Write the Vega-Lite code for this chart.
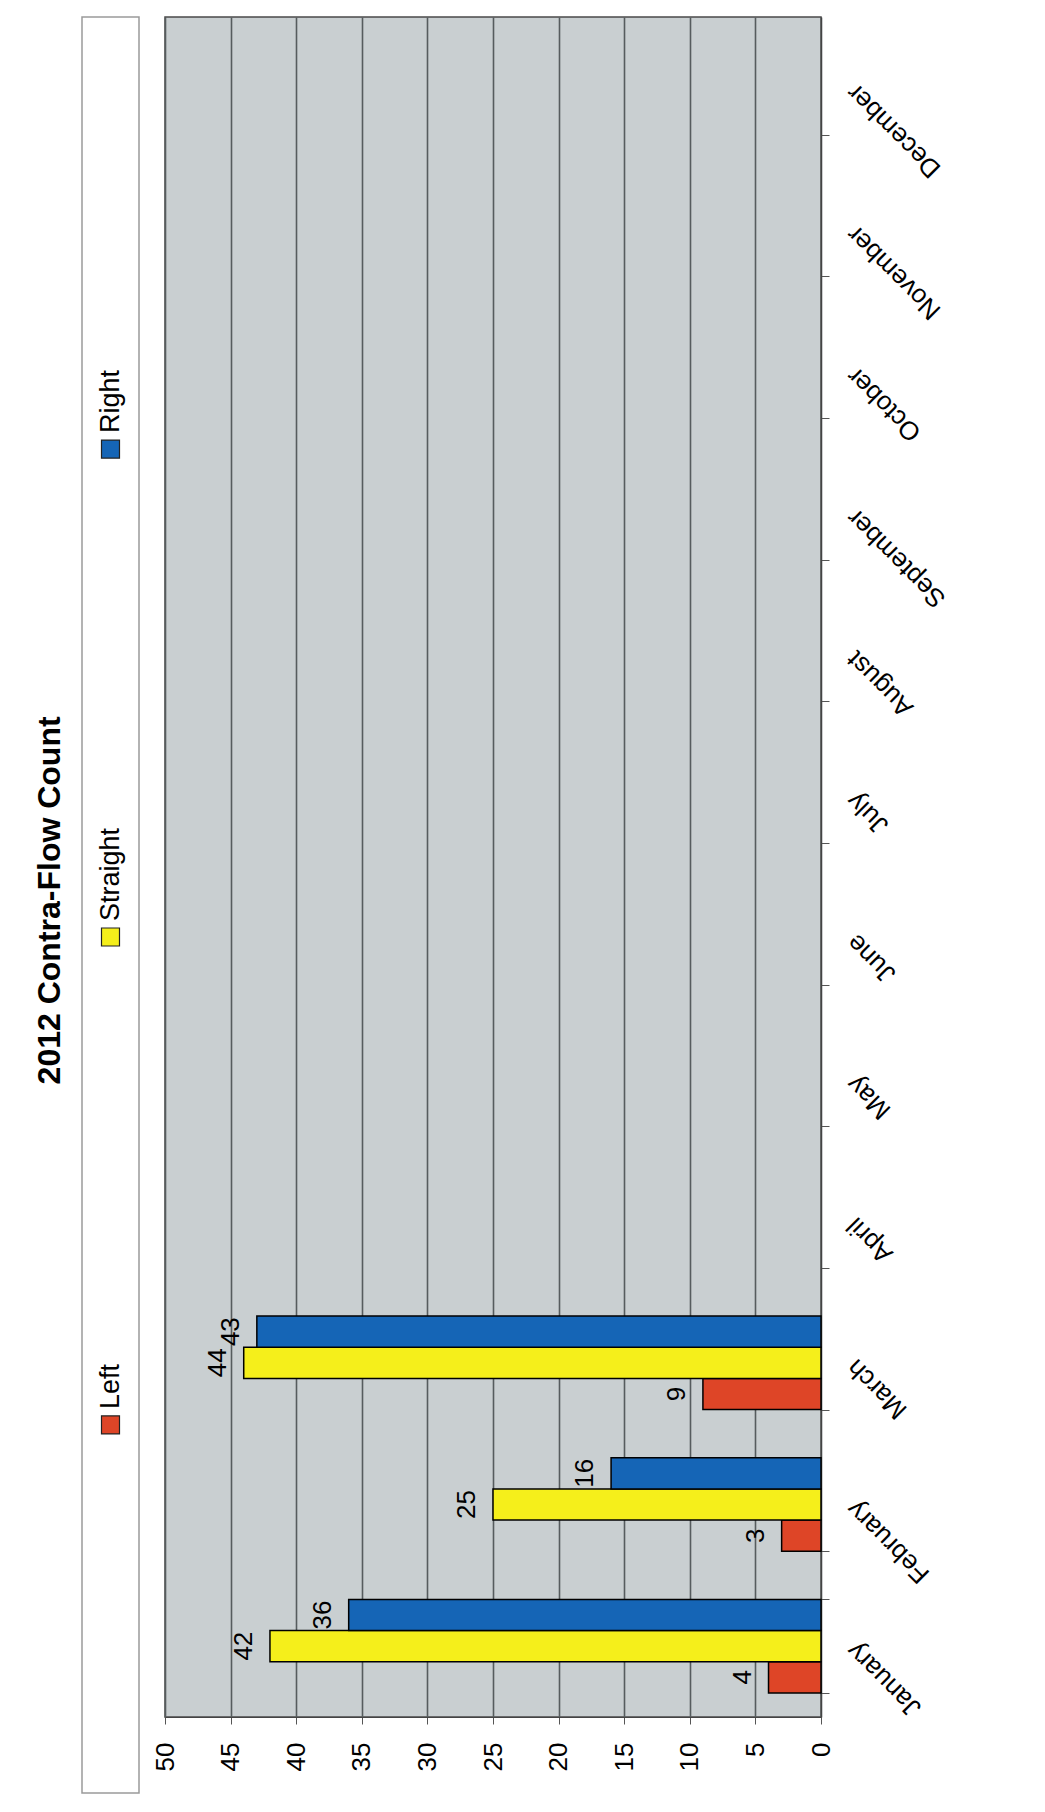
{
  "$schema": "https://vega.github.io/schema/vega-lite/v6.json",
  "background": "white",
  "padding": {"left": 34, "top": 7, "right": 5, "bottom": 5},
  "title": {
    "text": "2012 Contra-Flow Count",
    "orient": "left",
    "anchor": "middle",
    "fontSize": 32,
    "fontWeight": "bold",
    "font": "Liberation Sans",
    "color": "black",
    "offset": 14
  },
  "datasets": {
    "counts": [
      {"month": "January", "dir": "Left", "count": 4},
      {"month": "January", "dir": "Straight", "count": 42},
      {"month": "January", "dir": "Right", "count": 36},
      {"month": "February", "dir": "Left", "count": 3},
      {"month": "February", "dir": "Straight", "count": 25},
      {"month": "February", "dir": "Right", "count": 16},
      {"month": "March", "dir": "Left", "count": 9},
      {"month": "March", "dir": "Straight", "count": 44},
      {"month": "March", "dir": "Right", "count": 43}
    ]
  },
  "config": {
    "font": "Liberation Sans",
    "text": {"color": "black"}
  },
  "bounds": "flush",
  "spacing": 26,
  "hconcat": [
    {
      "width": 57,
      "height": 1776,
      "view": {"fill": "white", "stroke": "#9a9a9a", "strokeWidth": 1.5},
      "data": {"name": "counts"},
      "transform": [{"aggregate": [{"op": "count", "as": "n"}], "groupby": ["dir"]}],
      "encoding": {
        "y": {
          "field": "dir",
          "type": "nominal",
          "axis": null,
          "scale": {"type": "point", "domain": ["Right", "Straight", "Left"], "padding": 0.82, "align": 0.54}
        }
      },
      "layer": [
        {
          "mark": {"type": "square", "size": 324, "filled": true, "opacity": 1, "stroke": "#222222", "strokeWidth": 1.2},
          "encoding": {
            "color": {
              "field": "dir",
              "type": "nominal",
              "scale": {"domain": ["Left", "Straight", "Right"], "range": ["#de4527", "#f5ef1b", "#1565b6"]},
              "legend": null
            }
          }
        },
        {
          "mark": {"type": "text", "angle": 270, "align": "left", "baseline": "middle", "dx": 16, "fontSize": 27, "color": "black"},
          "encoding": {"text": {"field": "dir", "type": "nominal"}}
        }
      ]
    },
    {
      "width": 656,
      "height": 1700,
      "view": {"fill": "#c9cfd1", "stroke": "#4a4a4a", "strokeWidth": 1.5},
      "data": {"name": "counts"},
      "encoding": {
        "y": {
          "field": "month",
          "type": "nominal",
          "scale": {
            "domain": ["January", "February", "March", "April", "May", "June", "July", "August", "September", "October", "November", "December"],
            "reverse": true,
            "paddingInner": 0.34,
            "paddingOuter": 0.17
          },
          "axis": {
            "orient": "right",
            "title": null,
            "tickBand": "extent",
            "tickSize": 8,
            "tickColor": "#555555",
            "labelAngle": 225,
            "labelAlign": "right",
            "labelBaseline": "middle",
            "labelFontSize": 26,
            "labelColor": "black",
            "labelPadding": 22,
            "labelLimit": 0,
            "domainColor": "#444444",
            "grid": false
          }
        },
        "yOffset": {
          "field": "dir",
          "type": "nominal",
          "scale": {"domain": ["Right", "Straight", "Left"], "paddingInner": 0, "paddingOuter": 0}
        },
        "x": {
          "field": "count",
          "type": "quantitative",
          "scale": {"domain": [0, 50], "reverse": true, "nice": false},
          "axis": {
            "orient": "bottom",
            "title": null,
            "values": [0, 5, 10, 15, 20, 25, 30, 35, 40, 45, 50],
            "labelAngle": 270,
            "labelAlign": "right",
            "labelBaseline": "middle",
            "labelFontSize": 26,
            "labelColor": "black",
            "labelPadding": 18,
            "labelFlush": false,
            "labelOverlap": false,
            "tickSize": 7,
            "tickColor": "#555555",
            "grid": true,
            "gridColor": "#565c5e",
            "gridWidth": 1.6,
            "domainColor": "#444444"
          }
        }
      },
      "layer": [
        {
          "mark": {"type": "bar", "stroke": "black", "strokeWidth": 1.5},
          "encoding": {
            "color": {
              "field": "dir",
              "type": "nominal",
              "scale": {"domain": ["Left", "Straight", "Right"], "range": ["#de4527", "#f5ef1b", "#1565b6"]},
              "legend": null
            }
          }
        },
        {
          "mark": {"type": "text", "angle": 270, "align": "center", "baseline": "alphabetic", "dy": -18, "fontSize": 26, "color": "black"},
          "encoding": {"text": {"field": "count", "type": "quantitative"}}
        }
      ]
    }
  ]
}
